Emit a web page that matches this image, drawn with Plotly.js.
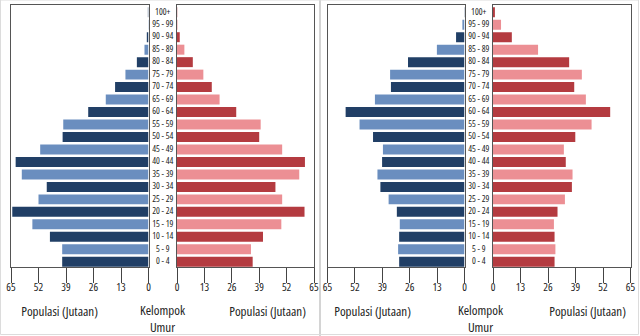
<!DOCTYPE html>
<html>
<head>
<meta charset="utf-8">
<script src="https://cdn.plot.ly/plotly-3.0.1.min.js"></script>
<style>html,body{margin:0;padding:0;background:#fff;}#chart{width:640px;height:336px;}#chart text{font-stretch:condensed;}</style>
</head>
<body>
<div id="chart"></div>
<script>
var categories = ["0 - 4","5 - 9","10 - 14","15 - 19","20 - 24","25 - 29","30 - 34","35 - 39","40 - 44","45 - 49","50 - 54","55 - 59","60 - 64","65 - 69","70 - 74","75 - 79","80 - 84","85 - 89","90 - 94","95 - 99","100+"];
var pop1Male   = [40.8, 40.8, 46.6, 54.9, 64.4, 52.0, 48.1, 59.9, 62.8, 51.2, 40.6, 40.3, 28.5, 20.2, 15.8, 10.9, 5.5, 1.9, 0.8, 0.2, 0.3];
var pop1Female = [35.9, 35.1, 40.8, 49.5, 60.5, 49.9, 46.7, 58.0, 60.7, 49.9, 39.0, 39.7, 28.1, 20.2, 16.5, 12.5, 7.5, 3.5, 1.3, 0.2, 0.1];
var pop2Male   = [31.0, 31.5, 31.0, 30.7, 32.1, 36.0, 39.9, 41.3, 39.1, 38.7, 43.4, 49.8, 56.4, 42.5, 34.9, 35.3, 26.8, 13.1, 4.0, 1.0, 0.2];
var pop2Female = [29.1, 29.5, 29.1, 28.8, 30.5, 34.0, 37.3, 37.6, 34.4, 33.5, 38.9, 46.6, 55.4, 43.9, 38.4, 42.0, 36.0, 21.3, 8.9, 3.8, 0.9];
var tickValues = [0, 13, 26, 39, 52, 65];
var axisTitle = "Populasi (Jutaan)";
var groupTitle = "Kelompok<br>Umur";

var blueDark = "#213f66", blueLight = "#6a8ebf", redDark = "#b43b40", redLight = "#ec8f94";
function alt(c1, c2) { return categories.map(function(_, i){ return i % 2 === 0 ? c1 : c2; }); }

var W = 640, H = 336;
var yTop = 5, yBot = 267;
var yDom = [(H - yBot) / H, (H - yTop) / H];
var tickFont = {family: "Open Sans, DejaVu Sans, sans-serif", size: 11, color: "#222"};
var catFont = {family: "Open Sans, DejaVu Sans, sans-serif", size: 9, color: "#222"};
var titleFont = {family: "Open Sans, Lato, sans-serif", size: 13, color: "#222"};

function bar(vals, colors, xa, ya) {
  return {type: "bar", orientation: "h", x: vals, y: categories, xaxis: xa, yaxis: ya,
    marker: {color: colors, line: {width: 0}}, hoverinfo: "x+y", showlegend: false};
}
function labels(xa, ya) {
  return {type: "scatter", mode: "text", x: categories.map(function(){ return 0; }), y: categories,
    text: categories, textposition: "middle center", textfont: catFont, xaxis: xa, yaxis: ya,
    cliponaxis: false, hoverinfo: "skip", showlegend: false};
}

var data = [
  bar(pop1Male, alt(blueDark, blueLight), "x", "y"),
  bar(pop1Female, alt(redDark, redLight), "x2", "y2"),
  bar(pop2Male, alt(blueDark, blueLight), "x3", "y3"),
  bar(pop2Female, alt(redDark, redLight), "x4", "y4"),
  labels("x5", "y5"),
  labels("x6", "y6")
];

function xAxis(d0, d1, reversed, anchor) {
  return {domain: [d0 / W, d1 / W], range: reversed ? [65, 0] : [0, 65], anchor: anchor,
    tickvals: tickValues, ticks: "outside", ticklen: 15, tickcolor: "#444", tickwidth: 1,
    ticklabelstandoff: -5,
    showline: true, linecolor: "#555", linewidth: 1, mirror: true, showgrid: false, zeroline: false,
    tickfont: tickFont, fixedrange: true};
}
function yAxis(anchor) {
  return {domain: yDom, type: "category", categoryorder: "array", categoryarray: categories,
    range: [-0.42, 20.58], anchor: anchor, showticklabels: false, ticks: "",
    showline: true, linecolor: "#555", linewidth: 1, mirror: true, showgrid: false, zeroline: false, fixedrange: true};
}
function hiddenX(d0, d1, anchor) {
  return {domain: [d0 / W, d1 / W], range: [-1, 1], anchor: anchor, visible: false, fixedrange: true};
}
function hiddenY(anchor) {
  return {domain: yDom, type: "category", categoryorder: "array", categoryarray: categories,
    range: [-0.42, 20.58], anchor: anchor, visible: false, fixedrange: true};
}

function ann(x, y, text) {
  return {xref: "paper", yref: "paper", x: x / W, y: (H - y) / H, text: text, showarrow: false,
    xanchor: "center", yanchor: "middle", font: titleFont};
}

var layout = {
  width: W, height: H, margin: {l: 0, r: 0, t: 0, b: 0},
  paper_bgcolor: "#fff", plot_bgcolor: "#fff", bargap: 0.2,
  xaxis: xAxis(11, 148.5, true, "y"),
  xaxis2: xAxis(177, 314, false, "y2"),
  xaxis3: xAxis(327.5, 464.5, true, "y3"),
  xaxis4: xAxis(493, 630.5, false, "y4"),
  xaxis5: hiddenX(148.5, 177, "y5"),
  xaxis6: hiddenX(464.5, 493, "y6"),
  yaxis: yAxis("x"), yaxis2: yAxis("x2"), yaxis3: yAxis("x3"), yaxis4: yAxis("x4"),
  yaxis5: hiddenY("x5"), yaxis6: hiddenY("x6"),
  annotations: [
    ann(59, 311, axisTitle), ann(267.5, 311, axisTitle),
    ann(162.5, 318, groupTitle),
    ann(372.3, 311, axisTitle), ann(587.5, 311, axisTitle),
    ann(480, 318, groupTitle)
  ],
  shapes: [
    {type: "line", xref: "paper", yref: "paper", x0: 320 / W, x1: 320 / W, y0: 0, y1: 1, line: {color: "#d4d4d4", width: 2}},
    {type: "rect", xref: "paper", yref: "paper", x0: 0.5 / W, x1: 1 - 1.5 / W, y0: 1.5 / H, y1: 1, line: {color: "#dcdcdc", width: 1}}
  ]
};

Plotly.newPlot("chart", data, layout, {staticPlot: true, displayModeBar: false});
</script>
</body>
</html>
